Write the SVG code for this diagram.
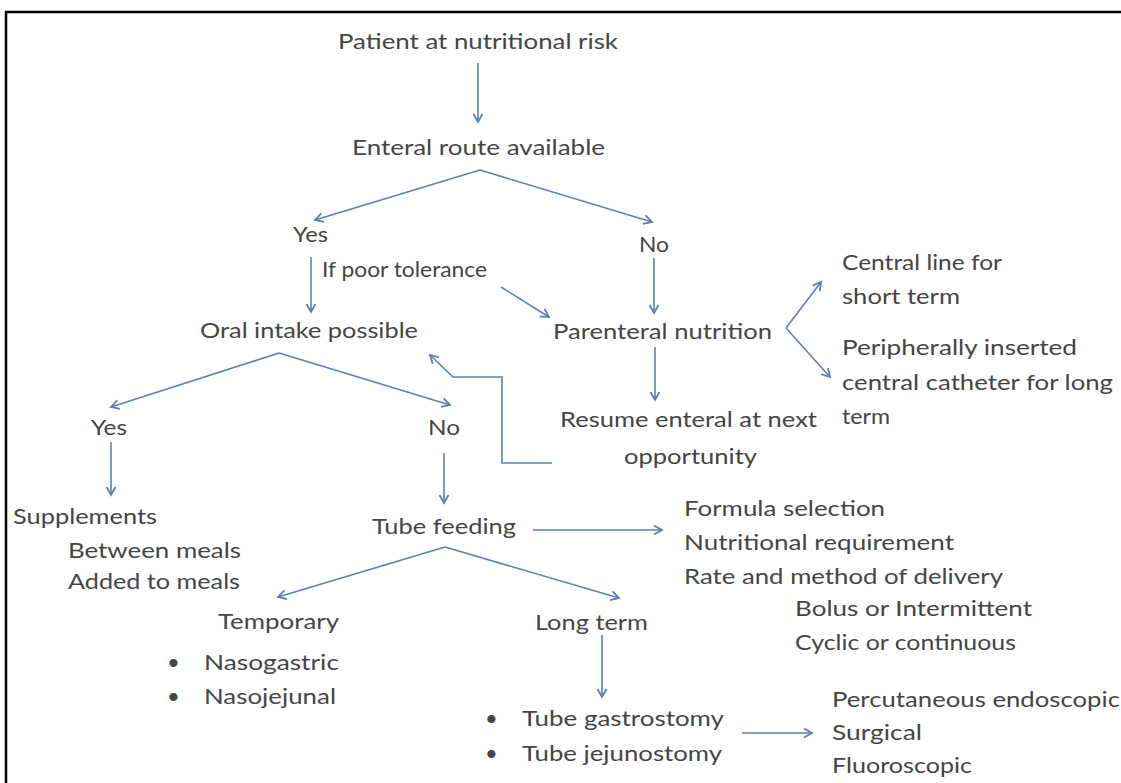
<svg xmlns="http://www.w3.org/2000/svg" width="1121" height="783" viewBox="0 0 1121 783">
<style>
text{font-family:"Lato","Liberation Sans",sans-serif;font-size:22px;fill:#454545}
.c{fill:none;stroke:#5f7fb0;stroke-width:1.6}
</style>
<defs>
<marker id="ah" markerUnits="userSpaceOnUse" markerWidth="14" markerHeight="14" refX="12" refY="7" orient="auto">
<path d="M4,2.5 L12,7 L4,11.5" fill="none" stroke="#5f7fb0" stroke-width="1.8"/>
</marker>
</defs>
<rect width="1121" height="783" fill="#fff"/>
<rect x="6" y="12" width="1140" height="800" fill="none" stroke="#000" stroke-width="2.5"/>
<g id="connectors">
<line class="c" x1="478" y1="63" x2="478" y2="122" marker-end="url(#ah)"/>
<line class="c" x1="480" y1="170" x2="315" y2="220" marker-end="url(#ah)"/>
<line class="c" x1="480" y1="170" x2="652" y2="222" marker-end="url(#ah)"/>
<line class="c" x1="311" y1="257" x2="311" y2="312" marker-end="url(#ah)"/>
<line class="c" x1="501" y1="287" x2="549" y2="317" marker-end="url(#ah)"/>
<line class="c" x1="654" y1="258" x2="654" y2="313" marker-end="url(#ah)"/>
<polyline class="c" points="786,328 821,282" marker-end="url(#ah)"/>
<polyline class="c" points="786,328 830,377" marker-end="url(#ah)"/>
<line class="c" x1="655" y1="347" x2="655" y2="400" marker-end="url(#ah)"/>
<polyline class="c" points="552,463 502,463 502,377 453,377 430,355" marker-end="url(#ah)"/>
<line class="c" x1="279" y1="353" x2="111" y2="407" marker-end="url(#ah)"/>
<line class="c" x1="279" y1="353" x2="450" y2="405" marker-end="url(#ah)"/>
<line class="c" x1="111" y1="442" x2="111" y2="495" marker-end="url(#ah)"/>
<line class="c" x1="444" y1="453" x2="444" y2="503" marker-end="url(#ah)"/>
<line class="c" x1="533" y1="530" x2="662" y2="530" marker-end="url(#ah)"/>
<line class="c" x1="445" y1="547" x2="278" y2="597" marker-end="url(#ah)"/>
<line class="c" x1="445" y1="547" x2="619" y2="598" marker-end="url(#ah)"/>
<line class="c" x1="602" y1="635" x2="602" y2="697" marker-end="url(#ah)"/>
<line class="c" x1="742" y1="733" x2="812" y2="733" marker-end="url(#ah)"/>
</g>
<g id="n-patient"><text x="338" y="49" textLength="280" lengthAdjust="spacingAndGlyphs">Patient at nutritional risk</text></g>
<g id="n-enteral"><text x="352" y="155" textLength="253" lengthAdjust="spacingAndGlyphs">Enteral route available</text></g>
<g id="n-yes1"><text x="293" y="242" textLength="35" lengthAdjust="spacingAndGlyphs">Yes</text></g>
<g id="n-no1"><text x="639" y="252" textLength="30" lengthAdjust="spacingAndGlyphs">No</text></g>
<g id="n-poor"><text x="322" y="277" textLength="165" lengthAdjust="spacingAndGlyphs">If poor tolerance</text></g>
<g id="n-oral"><text x="200" y="338" textLength="218" lengthAdjust="spacingAndGlyphs">Oral intake possible</text></g>
<g id="n-parenteral"><text x="553" y="339" textLength="219" lengthAdjust="spacingAndGlyphs">Parenteral nutrition</text></g>
<g id="n-central">
<text x="842" y="270" textLength="160" lengthAdjust="spacingAndGlyphs">Central line for</text>
<text x="842" y="304" textLength="118" lengthAdjust="spacingAndGlyphs">short term</text>
</g>
<g id="n-picc">
<text x="842" y="355" textLength="235" lengthAdjust="spacingAndGlyphs">Peripherally inserted</text>
<text x="842" y="390" textLength="271" lengthAdjust="spacingAndGlyphs">central catheter for long</text>
<text x="842" y="424" textLength="48" lengthAdjust="spacingAndGlyphs">term</text>
</g>
<g id="n-resume">
<text x="560" y="427" textLength="257" lengthAdjust="spacingAndGlyphs">Resume enteral at next</text>
<text x="624" y="464" textLength="133" lengthAdjust="spacingAndGlyphs">opportunity</text>
</g>
<g id="n-yes2"><text x="91" y="435" textLength="36" lengthAdjust="spacingAndGlyphs">Yes</text></g>
<g id="n-no2"><text x="428" y="435" textLength="32" lengthAdjust="spacingAndGlyphs">No</text></g>
<g id="n-supplements">
<text x="13" y="524" textLength="144" lengthAdjust="spacingAndGlyphs">Supplements</text>
<text x="68" y="558" textLength="173" lengthAdjust="spacingAndGlyphs">Between meals</text>
<text x="68" y="589" textLength="172" lengthAdjust="spacingAndGlyphs">Added to meals</text>
</g>
<g id="n-tube"><text x="372" y="534" textLength="144" lengthAdjust="spacingAndGlyphs">Tube feeding</text></g>
<g id="n-formula">
<text x="684" y="516" textLength="201" lengthAdjust="spacingAndGlyphs">Formula selection</text>
<text x="684" y="550" textLength="270" lengthAdjust="spacingAndGlyphs">Nutritional requirement</text>
<text x="684" y="584" textLength="319" lengthAdjust="spacingAndGlyphs">Rate and method of delivery</text>
<text x="795" y="616" textLength="237" lengthAdjust="spacingAndGlyphs">Bolus or Intermittent</text>
<text x="795" y="650" textLength="221" lengthAdjust="spacingAndGlyphs">Cyclic or continuous</text>
</g>
<g id="n-temporary">
<text x="218" y="629" textLength="121" lengthAdjust="spacingAndGlyphs">Temporary</text>
<text x="167" y="670">•</text>
<text x="204" y="670" textLength="135" lengthAdjust="spacingAndGlyphs">Nasogastric</text>
<text x="167" y="704">•</text>
<text x="204" y="704" textLength="132" lengthAdjust="spacingAndGlyphs">Nasojejunal</text>
</g>
<g id="n-longterm"><text x="535" y="630" textLength="113" lengthAdjust="spacingAndGlyphs">Long term</text></g>
<g id="n-tubes">
<text x="485" y="726">•</text>
<text x="522" y="726" textLength="202" lengthAdjust="spacingAndGlyphs">Tube gastrostomy</text>
<text x="485" y="761">•</text>
<text x="522" y="761" textLength="200" lengthAdjust="spacingAndGlyphs">Tube jejunostomy</text>
</g>
<g id="n-methods">
<text x="832" y="707" textLength="288" lengthAdjust="spacingAndGlyphs">Percutaneous endoscopic</text>
<text x="832" y="740" textLength="90" lengthAdjust="spacingAndGlyphs">Surgical</text>
<text x="832" y="773" textLength="140" lengthAdjust="spacingAndGlyphs">Fluoroscopic</text>
</g>
</svg>
